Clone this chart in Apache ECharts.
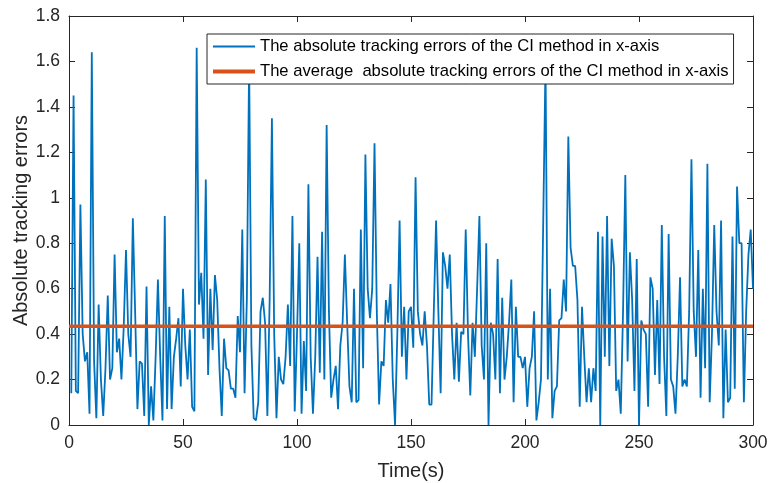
<!DOCTYPE html>
<html>
<head>
<meta charset="utf-8">
<script src="https://cdn.jsdelivr.net/npm/echarts@6/dist/echarts.min.js"></script>
<style>html,body{margin:0;padding:0;background:#fff}#c{width:769px;height:483px}</style>
</head>
<body>
<div id="c"></div>
<script>
// Absolute tracking error per second (t = 1..300)
const errorValues = [
0.14,1.45,0.15,0.14,0.97,0.40,0.28,0.32,0.05,1.64,
0.28,0.03,0.53,0.20,0.04,0.25,0.57,0.20,0.25,0.75,
0.32,0.38,0.20,0.43,0.77,0.40,0.30,0.91,0.50,0.07,
0.28,0.27,0.04,0.61,0.00,0.17,0.02,0.30,0.64,0.30,
0.02,0.92,0.07,0.52,0.07,0.30,0.38,0.47,0.17,0.60,
0.35,0.20,0.42,0.08,0.06,1.66,0.53,0.67,0.38,1.08,
0.22,0.60,0.33,0.66,0.55,0.25,0.04,0.38,0.25,0.24,
0.16,0.16,0.12,0.48,0.32,0.86,0.14,0.55,1.60,0.35,
0.03,0.02,0.10,0.50,0.56,0.45,0.04,0.55,1.35,0.40,
0.03,0.30,0.20,0.18,0.30,0.53,0.26,0.92,0.06,0.40,
0.80,0.05,0.37,0.15,1.06,0.30,0.05,0.30,0.74,0.23,
0.85,0.20,1.32,0.50,0.12,0.20,0.26,0.07,0.35,0.45,
0.75,0.45,0.17,0.10,0.60,0.10,0.11,0.86,0.25,1.19,
0.60,0.47,0.60,1.24,0.50,0.09,0.28,0.26,0.55,0.45,
0.62,0.20,0.00,0.40,0.90,0.30,0.52,0.20,0.50,0.52,
0.34,1.09,0.50,0.40,0.35,0.50,0.35,0.09,0.09,0.50,
0.90,0.50,0.14,0.76,0.70,0.60,0.75,0.40,0.20,0.45,
0.19,0.41,0.40,0.86,0.40,0.13,0.45,0.30,0.60,0.92,
0.35,0.20,0.80,0.00,0.45,0.40,0.20,0.73,0.14,0.56,
0.20,0.30,0.45,0.64,0.10,0.52,0.30,0.30,0.25,0.30,
0.08,0.25,0.30,0.50,0.02,0.10,0.20,0.90,1.60,0.20,
0.60,0.03,0.15,0.17,0.46,0.47,0.64,0.50,1.27,0.78,
0.70,0.70,0.55,0.08,0.52,0.30,0.10,0.25,0.10,0.25,
0.15,0.85,0.00,0.83,0.30,0.92,0.26,0.82,0.70,0.15,
0.20,0.05,0.50,1.10,0.28,0.76,0.55,0.15,0.73,0.00,
0.46,0.42,0.40,0.08,0.65,0.60,0.22,0.55,0.18,0.88,
0.30,0.04,0.84,0.20,0.17,0.05,0.30,0.65,0.17,0.20,
0.17,0.50,1.17,0.50,0.30,0.77,0.12,0.60,0.25,1.15,
0.10,0.40,0.88,0.50,0.35,0.90,0.03,0.42,0.10,0.12,
0.83,0.16,1.05,0.80,0.80,0.10,0.50,0.75,0.86,0.60
];
const timeValues = errorValues.map((v, i) => i + 1);
const averageError = 0.435;
const averageTimes = [0, 300];
const seriesNames = [
  'The absolute tracking errors of the CI method in x-axis',
  'The average  absolute tracking errors of the CI method in x-axis'
];
const xTicks = [0, 50, 100, 150, 200, 250, 300];
const yTicks = [0, 0.2, 0.4, 0.6, 0.8, 1, 1.2, 1.4, 1.6, 1.8];

const font = "'Liberation Sans', Arial, Helvetica, sans-serif";
const axisColor = '#262626';
const chart = echarts.init(document.getElementById('c'), null, {renderer: 'canvas'});
const baseAxis = {
  axisLine: {show: true, onZero: false, lineStyle: {color: axisColor, width: 1}},
  axisTick: {show: true, inside: true, length: 6, lineStyle: {color: axisColor}},
  splitLine: {show: false}
};
chart.setOption({
  animation: false,
  backgroundColor: '#fff',
  grid: {left: 69, right: 16, top: 16, bottom: 58, containLabel: false, outerBoundsMode: 'none'},
  legend: {
    orient: 'vertical', left: 207, top: 34, z: 20,
    data: [
      {name: seriesNames[0], icon: 'path://M0,0H40V1.8H0Z'},
      {name: seriesNames[1], icon: 'path://M0,0H40V4H0Z'}
    ],
    itemWidth: 42, itemHeight: 14, itemGap: 8,
    padding: [4, 5, 4, 6],
    borderColor: '#262626', borderWidth: 1, backgroundColor: '#fff',
    textStyle: {fontFamily: font, fontSize: 16.6, color: '#000'}
  },
  xAxis: [
    Object.assign({}, baseAxis, {
      type: 'value', min: 0, max: 300, interval: 50, position: 'bottom',
      name: 'Time(s)', nameLocation: 'middle', nameGap: 36, nameMoveOverlap: false,
      nameTextStyle: {fontFamily: font, fontSize: 20, color: axisColor},
      axisLabel: {fontFamily: font, fontSize: 17.5, color: axisColor, margin: 9,
        formatter: v => xTicks.includes(v) ? String(v) : ''}
    }),
    Object.assign({}, baseAxis, {
      type: 'value', min: 0, max: 300, interval: 50, position: 'top',
      axisLabel: {show: false}
    })
  ],
  yAxis: [
    Object.assign({}, baseAxis, {
      type: 'value', min: 0, max: 1.8, interval: 0.2, position: 'left',
      name: 'Absolute tracking errors', nameLocation: 'middle', nameGap: 38, nameMoveOverlap: false,
      nameTextStyle: {fontFamily: font, fontSize: 20, color: axisColor},
      axisLabel: {fontFamily: font, fontSize: 17.5, color: axisColor, margin: 9,
        formatter: v => {
          const t = yTicks.find(k => Math.abs(k - v) < 1e-6);
          return t === undefined ? '' : String(t);
        }}
    }),
    Object.assign({}, baseAxis, {
      type: 'value', min: 0, max: 1.8, interval: 0.2, position: 'right',
      axisLabel: {show: false}
    })
  ],
  series: [
    {
      name: seriesNames[0], type: 'line', xAxisIndex: 0, yAxisIndex: 0,
      data: timeValues.map((t, i) => [t, errorValues[i]]),
      symbol: 'none', showSymbol: false,
      lineStyle: {color: '#0072BD', width: 1.8},
      itemStyle: {color: '#0072BD'},
      z: 2
    },
    {
      name: seriesNames[1], type: 'line', xAxisIndex: 0, yAxisIndex: 0,
      data: averageTimes.map(t => [t, averageError]),
      symbol: 'none', showSymbol: false,
      lineStyle: {color: '#D95319', width: 3.5},
      itemStyle: {color: '#D95319'},
      z: 3
    }
  ]
});
</script>
</body>
</html>
